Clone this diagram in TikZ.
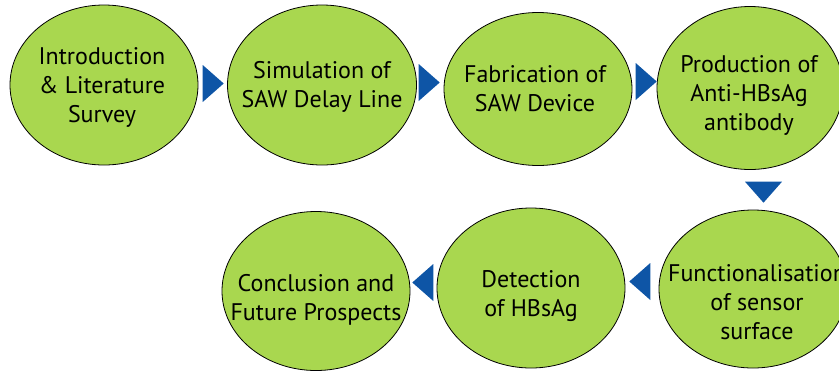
\documentclass[tikz,border=0pt]{standalone}
\usepackage{fontspec}
\setmainfont{PT Sans}
\usetikzlibrary{shapes.geometric}
\definecolor{stagegreen}{RGB}{169,215,79}
\definecolor{arrowblue}{RGB}{14,85,166}
\begin{document}
\begin{tikzpicture}[x=1pt,y=-1pt,
  stage/.style={ellipse,draw=black,line width=0.8pt,fill=stagegreen,inner sep=0pt},
  txt/.style={align=center,inner sep=0pt,font=\fontsize{24}{29}\selectfont},
  tri/.style={isosceles triangle,isosceles triangle apex angle=82,
    isosceles triangle stretches,fill=arrowblue,inner sep=0pt,
    minimum width=37pt,minimum height=21pt,anchor=apex}]
  \useasboundingbox (0,0) rectangle (839,373);
  % top row
  \node[stage,minimum width=188pt,minimum height=160pt,
    label={[txt,yshift=-2pt,xshift=-2pt]center:{Introduction\\\& Literature\\Survey}}] (intro) at (104,85) {};
  \node[stage,minimum width=189pt,minimum height=160pt,
    label={[txt,yshift=-2pt]center:{Simulation of\\SAW Delay Line}}] (sim) at (322,85) {};
  \node[stage,minimum width=188pt,minimum height=153pt,
    label={[txt,xshift=-3pt]center:{Fabrication of\\SAW Device}}] (fab) at (538,89) {};
  \node[stage,minimum width=186pt,minimum height=163pt,
    label={[txt,yshift=-7pt,xshift=-1pt]center:{Production of\\Anti-HBsAg\\antibody}}] (prod) at (750,88) {};
  % bottom row
  \node[stage,minimum width=188pt,minimum height=158pt,
    label={[txt,yshift=-13pt,xshift=4pt]center:{Functionalisation\\of sensor\\surface}}] (func) at (753,289) {};
  \node[stage,minimum width=188pt,minimum height=160pt,
    label={[txt,yshift=-8pt]center:{Detection\\of HBsAg}}] (det) at (531,288) {};
  \node[stage,minimum width=188pt,minimum height=159pt,
    label={[txt,yshift=-9pt]center:{Conclusion and\\Future Prospects}}] (concl) at (316,291) {};
  % arrows
  \node[tri,shape border rotate=0] (t1) at (224,83.5) {};
  \node[tri,shape border rotate=0] (t2) at (440,82.5) {};
  \node[tri,shape border rotate=0] (t3) at (657,81.5) {};
  \node[tri,shape border rotate=270] (t4) at (763.5,203) {};
  \node[tri,shape border rotate=180] (t5) at (629,281.5) {};
  \node[tri,shape border rotate=180] (t6) at (412,282.5) {};
\end{tikzpicture}
\end{document}
